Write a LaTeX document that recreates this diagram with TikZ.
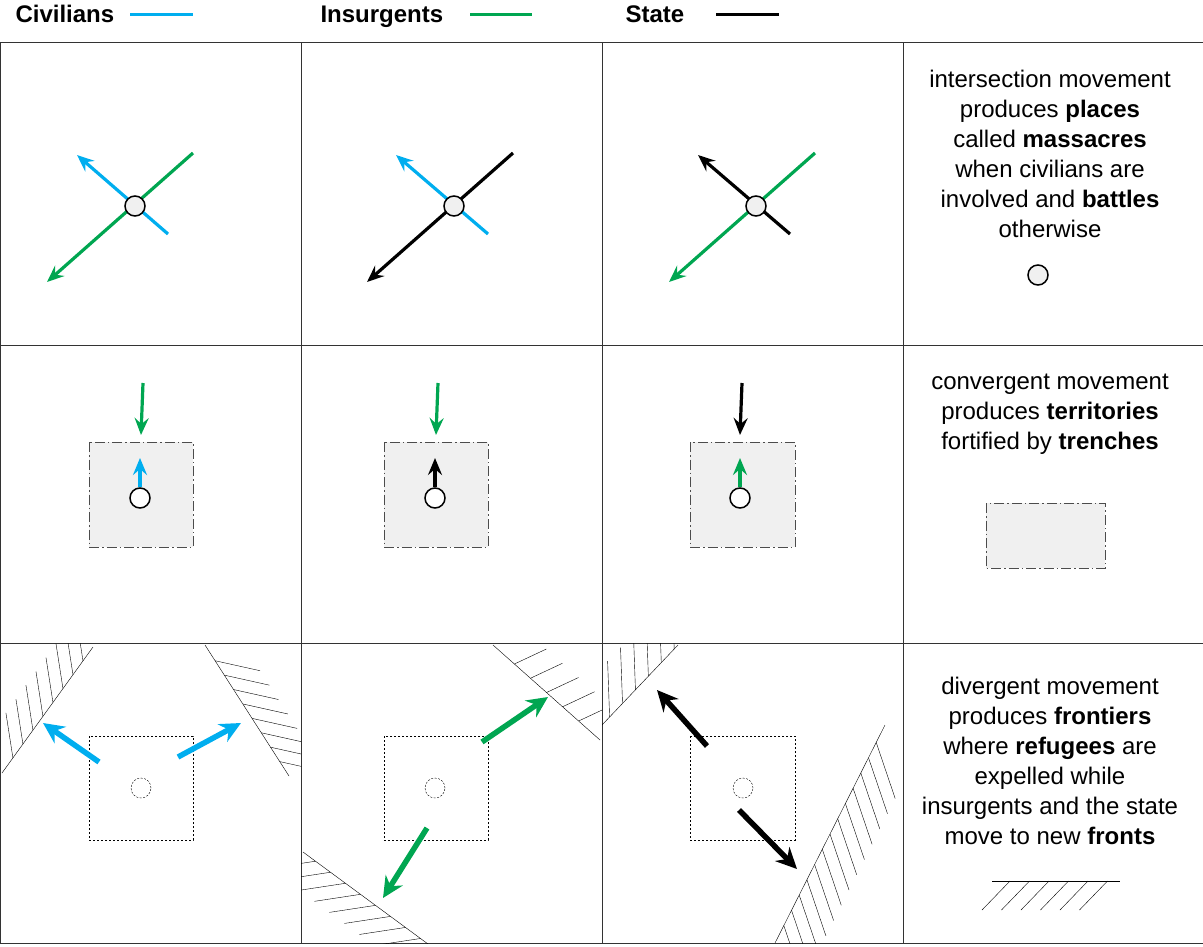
\documentclass[tikz,border=0pt]{standalone}
\usepackage{fontspec}
\setmainfont{Liberation Sans}
\usetikzlibrary{arrows.meta,calc}
\definecolor{civ}{RGB}{0,174,239}
\definecolor{ins}{RGB}{0,166,81}
\tikzset{
    mv/.style={line width=3.2pt,-{Stealth[length=17pt,width=14pt,inset=6pt]}},
    mvb/.style={line width=5.5pt,-{Stealth[length=21pt,width=20pt,inset=7pt]}},
    place/.style={circle,draw,line width=1.5pt,fill=gray!12,minimum size=20pt,inner sep=0pt},
    ghost/.style={circle,draw,thin,dash pattern=on 2pt off 1.5pt,minimum size=20pt,inner sep=0pt},
    terr/.style={draw=black!70,fill=gray!12,line width=1pt,dash pattern=on 10pt off 3pt on 1.5pt off 3pt},
    zone/.style={draw,line width=0.9pt,dash pattern=on 2pt off 2pt},
    note/.style={align=center,font=\fontsize{24}{30}\selectfont},
    key/.style={font=\fontsize{24}{28}\selectfont\bfseries,anchor=base west}
}
\begin{document}
\begin{tikzpicture}[x=1pt,y=-1pt]
    \useasboundingbox (0,0) rectangle (1203,946);
    % legend
    \node[key] (kc) at (12,22) {Civilians};
    \draw[civ,line width=3pt] (130,14) -- (193,14);
    \node[key] (ki) at (317,22) {Insurgents};
    \draw[ins,line width=3pt] (470,14) -- (532,14);
    \node[key] (ks) at (622,22) {State};
    \draw[line width=3pt] (716,14) -- (779,14);
    % table
    \draw[line width=1pt,black!80] (0,42) rectangle (1203,943);
    \foreach \x in {301,602,903}
        \draw[line width=1pt,black!80] (\x,42) -- (\x,943);
    \foreach \y in {345,643}
        \draw[line width=1pt,black!80] (0,\y) -- (1203,\y);

    % row 1: intersection
    \draw[civ,mv] (168,234) -- (77,155);
    \draw[ins,mv] (193,153) -- (47,282);
    \node[place] (p1) at (135,206) {};
    \draw[civ,mv] (488,234) -- (396,155);
    \draw[mv] (513,153) -- (367,282);
    \node[place] (p2) at (454,206) {};
    \draw[mv] (790,234) -- (698,155);
    \draw[ins,mv] (815,153) -- (669,282);
    \node[place] (p3) at (756,206) {};
    \node[note] (n1) at (1050,154) {intersection movement\\produces \textbf{places}\\called \textbf{massacres}\\when civilians are\\involved and \textbf{battles}\\otherwise};
    \node[place] (p4) at (1038,275) {};

    % row 2: convergence
    \draw[terr] (89,442) rectangle (193,547);
    \node[place,fill=white] (q1) at (140,498) {};
    \draw[civ,mv] (q1.north) -- (140,458);
    \draw[ins,mv] (143,383) -- (141,435);
    \draw[terr] (384,442) rectangle (488,547);
    \node[place,fill=white] (q2) at (435,498) {};
    \draw[mv] (q2.north) -- (435,458);
    \draw[ins,mv] (438,383) -- (436,435);
    \draw[terr] (690,442) rectangle (795,547);
    \node[place,fill=white] (q3) at (740,498) {};
    \draw[ins,mv] (q3.north) -- (740,458);
    \draw[mv] (742,383) -- (740,435);
    \node[note] (n2) at (1050,414) {convergent movement\\produces \textbf{territories}\\fortified by \textbf{trenches}};
    \draw[terr] (986,503) rectangle (1105,568);

    % row 3: divergence
    \draw[zone] (89,736) rectangle (193,840);
    \node[ghost] (g1) at (141,788) {};
    \draw[civ,mvb] (99,762) -- (43,723);
    \draw[civ,mvb] (178,757) -- (241,723);
    \draw[zone] (384,736) rectangle (488,840);
    \node[ghost] (g2) at (435,788) {};
    \draw[ins,mvb] (482,742) -- (548,697);
    \draw[ins,mvb] (427,828) -- (383,898);
    \draw[zone] (690,736) rectangle (795,840);
    \node[ghost] (g3) at (743,788) {};
    \draw[mvb] (707,746) -- (657,690);
    \draw[mvb] (739,810) -- (797,869);

    % fronts
    \begin{scope}
        \clip (0,643) rectangle (301,943);
        \draw (2,773) -- (93,647);
        \foreach \t in {0.12,0.23,...,0.95}
            \draw ($(2,773)!\t!(93,647)$) -- ++(-7,-45);
        \draw (205,645) -- (289,776);
        \foreach \t in {0.12,0.23,...,0.95}
            \draw ($(205,645)!\t!(289,776)$) -- ++(45,10);
    \end{scope}
    \begin{scope}
        \clip (301,643) rectangle (602,943);
        \draw (493,645) -- (600,740);
        \foreach \t in {0.2,0.35,...,0.95}
            \draw ($(493,645)!\t!(600,740)$) -- ++(32,-15);
        \draw (303,852) -- (428,944);
        \foreach \t in {0.1,0.22,...,0.95}
            \draw ($(303,852)!\t!(428,944)$) -- ++(-46,7);
    \end{scope}
    \begin{scope}
        \clip (602,643) rectangle (903,943);
        \draw (602,725) -- (678,645);
        \foreach \t in {0.1,0.27,...,0.95}
            \draw ($(602,725)!\t!(678,645)$) -- ++(-2,-56);
        \draw (775,943) -- (885,725);
        \foreach \t in {0.08,0.15,...,0.93}
            \draw ($(775,943)!\t!(885,725)$) -- ++(19,56);
    \end{scope}
    \node[note] (n3) at (1050,761) {divergent movement\\produces \textbf{frontiers}\\where \textbf{refugees} are\\expelled while\\insurgents and the state\\move to new \textbf{fronts}};
    \draw (992,881) -- (1120,881);
    \foreach \k in {0,...,5}
        \draw (1010+19.5*\k,881) -- ++(-28,29);
\end{tikzpicture}
\end{document}
